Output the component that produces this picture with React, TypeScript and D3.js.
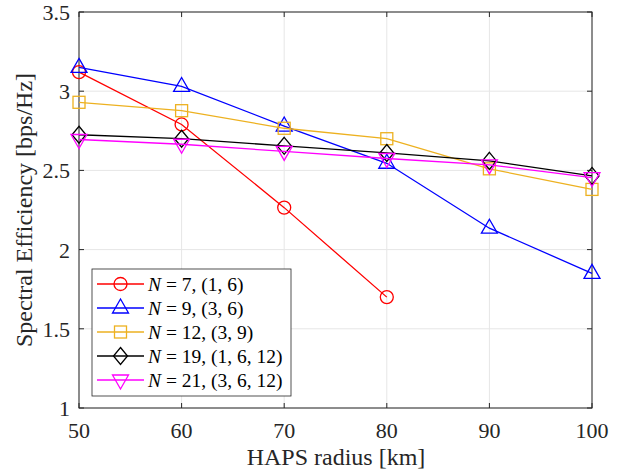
import React from "react";
import * as d3 from "d3";

const radius = [50, 60, 70, 80, 90, 100];
const seriesN7 = [3.12, 2.79, 2.265, 1.70];
const seriesN9 = [3.15, 3.03, 2.78, 2.545, 2.135, 1.85];
const seriesN12 = [2.93, 2.877, 2.766, 2.70, 2.51, 2.38];
const seriesN19 = [2.725, 2.70, 2.655, 2.61, 2.56, 2.465];
const seriesN21 = [2.695, 2.665, 2.62, 2.575, 2.535, 2.455];
const xTicks = [50, 60, 70, 80, 90, 100];
const yTicks = [1, 1.5, 2, 2.5, 3, 3.5];
const legendLabels = [
  ["7", "(1, 6)"],
  ["9", "(3, 6)"],
  ["12", "(3, 9)"],
  ["19", "(1, 6, 12)"],
  ["21", "(3, 6, 12)"],
];

const series = [
  { values: seriesN7, color: "#ff0000", marker: "circle" },
  { values: seriesN9, color: "#0000ff", marker: "tri" },
  { values: seriesN12, color: "#edb120", marker: "square" },
  { values: seriesN19, color: "#000000", marker: "diamond" },
  { values: seriesN21, color: "#ff00ff", marker: "tridown" },
];

const L = 79, R = 592, T = 12, B = 408;
const font = "Liberation Serif";

function Marker({ type, x, y, color }: { type: string; x: number; y: number; color: string }) {
  const sw = 1.3;
  if (type === "circle") return <circle cx={x} cy={y} r={6.5} fill="none" stroke={color} strokeWidth={sw} />;
  if (type === "square") return <rect x={x - 6} y={y - 6} width={12} height={12} fill="none" stroke={color} strokeWidth={sw} />;
  if (type === "diamond")
    return <path d={`M${x},${y - 8.5}L${x + 7},${y}L${x},${y + 8.5}L${x - 7},${y}Z`} fill="none" stroke={color} strokeWidth={sw} />;
  if (type === "tri")
    return <path d={`M${x},${y - 9}L${x + 8},${y + 5}L${x - 8},${y + 5}Z`} fill="none" stroke={color} strokeWidth={sw} />;
  return <path d={`M${x},${y + 9}L${x + 8},${y - 5}L${x - 8},${y - 5}Z`} fill="none" stroke={color} strokeWidth={sw} />;
}

export default function App() {
  const x = d3.scaleLinear().domain([50, 100]).range([L, R]);
  const y = d3.scaleLinear().domain([1, 3.5]).range([B, T]);
  const line = d3.line<[number, number]>().x((d) => x(d[0])).y((d) => y(d[1]));

  const legX = 92, legY = 269, legW = 199, legH = 127;
  return (
    <svg width={622} height={472} style={{ position: "absolute", left: 0, top: 0, background: "#fff" }}>
      <rect x={0} y={0} width={622} height={472} fill="#fff" />
      {xTicks.map((t) => (
        <line key={"gx" + t} x1={x(t)} x2={x(t)} y1={T} y2={B} stroke="#e6e6e6" strokeWidth={1} />
      ))}
      {yTicks.map((t) => (
        <line key={"gy" + t} x1={L} x2={R} y1={y(t)} y2={y(t)} stroke="#e6e6e6" strokeWidth={1} />
      ))}
      {xTicks.map((t) => (
        <g key={"tx" + t}>
          <line x1={x(t)} x2={x(t)} y1={B} y2={B - 5} stroke="#262626" />
          <line x1={x(t)} x2={x(t)} y1={T} y2={T + 5} stroke="#262626" />
          <text x={x(t)} y={B + 30} textAnchor="middle" fontSize={22} fill="#262626" fontFamily={font}>{t}</text>
        </g>
      ))}
      {yTicks.map((t) => (
        <g key={"ty" + t}>
          <line x1={L} x2={L + 5} y1={y(t)} y2={y(t)} stroke="#262626" />
          <line x1={R} x2={R - 5} y1={y(t)} y2={y(t)} stroke="#262626" />
          <text x={L - 9} y={y(t) + 8} textAnchor="end" fontSize={22} fill="#262626" fontFamily={font}>{t}</text>
        </g>
      ))}
      <rect x={L} y={T} width={R - L} height={B - T} fill="none" stroke="#262626" strokeWidth={1} />
      {series.map((s, i) => {
        const pts = s.values.map((v, j) => [radius[j], v] as [number, number]);
        return (
          <g key={"s" + i}>
            <path d={line(pts) || ""} fill="none" stroke={s.color} strokeWidth={1.3} />
            {pts.map((p, j) => (
              <Marker key={j} type={s.marker} x={x(p[0])} y={y(p[1])} color={s.color} />
            ))}
          </g>
        );
      })}
      <rect x={legX} y={legY} width={legW} height={legH} fill="#fff" stroke="#262626" strokeWidth={0.8} />
      {series.map((s, i) => {
        const ly = 284 + i * 24;
        return (
          <g key={"l" + i}>
            <line x1={97} x2={144} y1={ly} y2={ly} stroke={s.color} strokeWidth={1.3} />
            <Marker type={s.marker} x={120.5} y={ly} color={s.color} />
            <text x={148} y={ly + 7} fontSize={19.5} fill="#000" fontFamily={font}>
              <tspan fontStyle="italic">N</tspan>
              {` = ${legendLabels[i][0]}, ${legendLabels[i][1]}`}
            </text>
          </g>
        );
      })}
      <text x={336} y={465} textAnchor="middle" fontSize={24} fill="#262626" fontFamily={font}>HAPS radius [km]</text>
      <text transform={`translate(32,${(T + B) / 2}) rotate(-90)`} textAnchor="middle" fontSize={24} fill="#262626" fontFamily={font}>
        Spectral Efficiency [bps/Hz]
      </text>
    </svg>
  );
}
